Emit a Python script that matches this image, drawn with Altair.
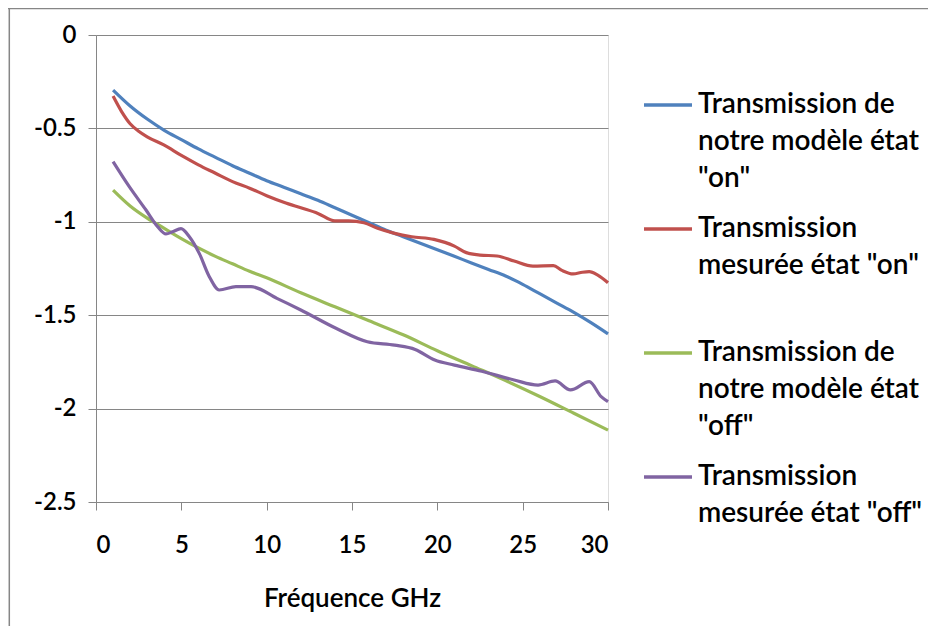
import altair as alt
import pandas as pd

# ---- data ----
legend_lines = [
    ["Transmission de", "notre modèle état", '"on"'],
    ["Transmission", 'mesurée état "on"', " "],
    ["Transmission de", "notre modèle état", '"off"'],
    ["Transmission", 'mesurée état "off"', " "],
]
colors = ["#4F81BD", "#C0504D", "#9BBB59", "#8064A2"]

blue_f = [1, 2, 3, 4, 5, 6, 7, 8, 9, 10, 11, 12, 13, 14, 15, 16, 17, 18, 19, 20,
          21, 22, 23, 24, 25, 26, 27, 28, 29, 30]
blue_v = [-0.295, -0.38, -0.45, -0.51, -0.56, -0.61, -0.655, -0.70, -0.74, -0.78,
          -0.815, -0.85, -0.885, -0.925, -0.965, -1.005, -1.045, -1.08, -1.115, -1.15,
          -1.185, -1.22, -1.255, -1.29, -1.335, -1.385, -1.435, -1.485, -1.54, -1.60]

red_f = [1, 1.5, 2, 2.5, 3, 4, 5, 6, 7, 8, 9, 10, 11, 12, 13, 14, 14.8, 15.7, 16.5,
         17.5, 18.5, 19.8, 21, 21.7, 22.5, 23.5, 24.5, 25.6, 26.8, 27.3, 27.95, 28.5,
         28.9, 29.4, 30]
red_v = [-0.327, -0.41, -0.475, -0.515, -0.545, -0.59, -0.645, -0.695, -0.74, -0.785,
         -0.82, -0.86, -0.895, -0.925, -0.955, -0.995, -0.995, -1.005, -1.035,
         -1.062, -1.08, -1.094, -1.13, -1.165, -1.178, -1.183, -1.21, -1.237, -1.235,
         -1.26, -1.279, -1.27, -1.267, -1.285, -1.326]

green_f = [1, 2, 3, 4, 5, 6, 7, 8, 9, 10, 12, 14, 16, 18, 20, 22, 24, 26, 28, 30]
green_v = [-0.83, -0.915, -0.98, -1.035, -1.09, -1.14, -1.185, -1.225, -1.265, -1.30,
           -1.38, -1.455, -1.53, -1.605, -1.69, -1.77, -1.85, -1.935, -2.025, -2.115]

purple_f = [1, 1.95, 2.93, 3.61, 4.1, 4.49, 4.98, 5.47, 6.05, 6.64, 7.22, 8.2, 9.08,
            10.6, 12.0, 14.06, 15.9, 17.5, 18.7, 19.85, 21, 22.6, 24.5, 25.9, 26.9,
            27.8, 28.9, 29.6, 30]
purple_v = [-0.678, -0.812, -0.937, -1.026, -1.065, -1.053, -1.037, -1.08, -1.169,
            -1.294, -1.365, -1.347, -1.347, -1.41, -1.472, -1.57, -1.642, -1.66,
            -1.683, -1.74, -1.767, -1.80, -1.847, -1.874, -1.852, -1.90, -1.856,
            -1.936, -1.963]

x_ticks = [0, 5, 10, 15, 20, 25, 30]
y_ticks = [0, -0.5, -1, -1.5, -2, -2.5]

# ---- table ----
labels = ["\n".join(l) for l in legend_lines]
rows = []
for lab, fs, vs in zip(labels, [blue_f, red_f, green_f, purple_f],
                       [blue_v, red_v, green_v, purple_v]):
    for f, v in zip(fs, vs):
        rows.append({"freq": f, "val": v, "serie": lab})
df = pd.DataFrame(rows)

W, H = 512, 467
FONT = "Lato"

lines = alt.Chart(df).mark_line(strokeWidth=3.2, interpolate="monotone").encode(
    x=alt.X("freq:Q", scale=alt.Scale(domain=[0, 30], nice=False),
            axis=alt.Axis(values=x_ticks, title="Fréquence GHz", grid=False,
                          domainColor="#868686", tickColor="#868686", tickSize=8,
                          labelFontSize=24, labelFont=FONT, labelColor="black",
                          labelFontWeight=600,
                          labelPadding=23, titleFont=FONT, titleFontSize=26,
                          titleFontWeight=600, titleColor="black",
                          titlePadding=28, labelExpr="datum.value + ''")),
    y=alt.Y("val:Q", scale=alt.Scale(domain=[-2.5, 0], nice=False),
            axis=alt.Axis(values=y_ticks, title=None, grid=True, gridColor="#868686",
                          domainColor="#868686", tickColor="#868686", tickSize=8,
                          labelFontSize=24, labelFont=FONT, labelColor="black",
                          labelFontWeight=600,
                          labelPadding=12, labelExpr="datum.value + ''")),
    color=alt.Color("serie:N",
                    scale=alt.Scale(domain=labels, range=colors),
                    sort=labels,
                    legend=alt.Legend(title=None, orient="none", legendX=546, legendY=44,
                                      symbolType="stroke", symbolSize=2304,
                                      symbolStrokeWidth=3.5, labelFont=FONT,
                                      labelFontSize=28, labelColor="black",
                                      labelFontWeight=600,
                                      labelLimit=0,
                                      labelBaseline="middle", labelOffset=4,
                                      rowPadding=10,
                                      labelExpr="split(datum.label, '\\n')")),
)

top_edge = alt.Chart(pd.DataFrame({"a": [0]})).mark_rule(
    stroke="#868686", strokeWidth=1.5
).encode(x=alt.value(-90), x2=alt.value(W + 330), y=alt.value(-26.5))
left_edge = alt.Chart(pd.DataFrame({"a": [0]})).mark_rule(
    stroke="#868686", strokeWidth=1.5
).encode(x=alt.value(-86.7), y=alt.value(-27), y2=alt.value(H + 130))

chart = alt.layer(lines, top_edge, left_edge).properties(
    width=W, height=H,
    autosize=alt.AutoSizeParams(type="none"),
    padding={"left": 88, "top": 27, "right": 320, "bottom": 124},
).configure_view(stroke=None).configure(
    background="white",
    style={"guide-label": {"lineHeight": 37}},
)

chart.save("out.html", embed_options={"renderer": "svg", "actions": False})
